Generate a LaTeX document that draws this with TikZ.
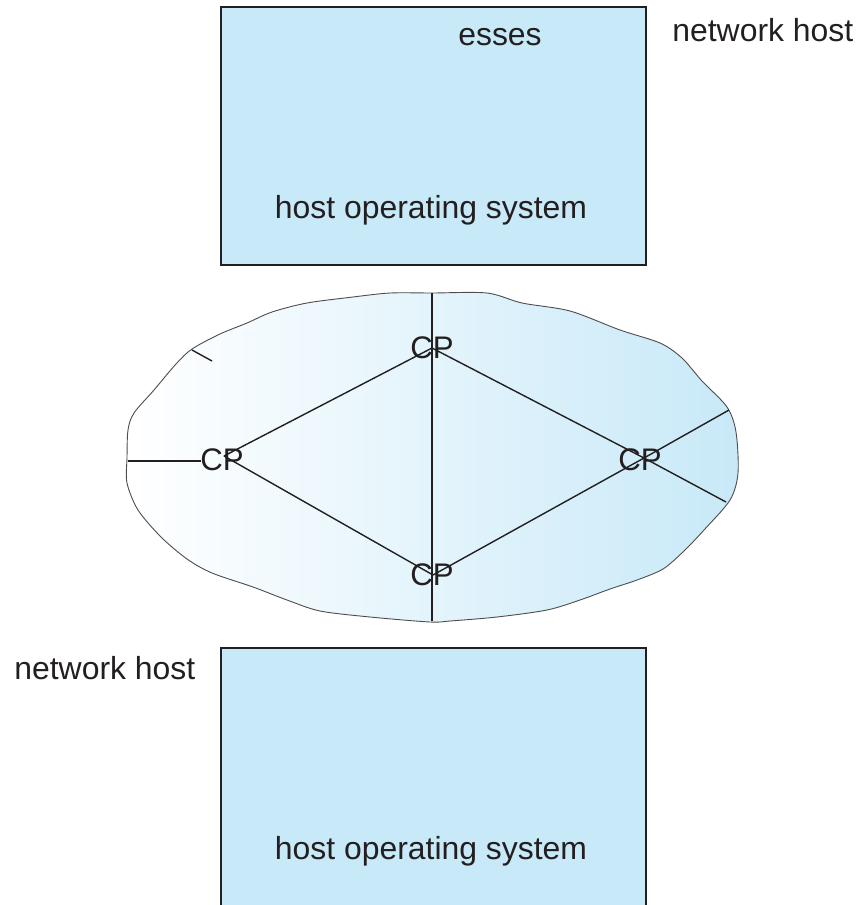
\documentclass[tikz,border=0pt]{standalone}
\usepackage{fontspec}
\setmainfont{Liberation Sans}
\definecolor{hostblue}{RGB}{200,233,248}
\definecolor{ink}{RGB}{35,31,32}
\tikzset{
  lbl/.style={inner sep=0pt, anchor=base, text=ink, font=\fontsize{15.95}{19}\selectfont},
  cp/.style={inner sep=0pt, text=ink, font=\fontsize{15.6}{19}\selectfont},
  hostbox/.style={fill=hostblue, draw=ink, line width=0.7pt},
  link/.style={draw=ink, line width=0.7pt},
  rim/.style={draw=ink!80, line width=0.45pt}
}
\begin{document}
\begin{tikzpicture}[x=0.5pt, y=-0.5pt]
\useasboundingbox (0,0) rectangle (860,905);

% upper host
\draw[hostbox] (221,7) rectangle (646,265);
\node[lbl] (procs) at (500,45) {esses};
\node[lbl] (osA) at (431,218) {host operating system};
\node[lbl, anchor=base west] (hostA) at (672,41) {network host};

% lower host (runs off the bottom edge)
\fill[hostblue] (221,648) rectangle (646,905);
\draw[hostbox, fill=none] (221,910) -- (221,648) -- (646,648) -- (646,910);
\node[lbl] (osB) at (431,859) {host operating system};
\node[lbl, anchor=base west] (hostB) at (14,679) {network host};

% network cloud
\def\cloudpath{plot[smooth cycle, tension=0.5] coordinates {
  (432,293) (487,293) (522,303) (570,311) (620,330) (660,343) (682,358)
  (702,381) (727,407) (736,432) (738,473) (730,500) (704,530) (684,551)
  (663,569) (637,580) (610,589) (580,600) (547,610) (497,617) (450,621)
  (430,622) (370,617) (320,611) (287,600) (253,587) (212,573) (187,559)
  (161,537) (138,510) (127,483) (127,458) (128,430) (134,413) (154,390)
  (176,364) (192,349) (220,334) (247,323) (272,312) (307,303) (353,297)
  (390,293)}}
\shade[left color=white, right color=hostblue] \cloudpath;
\draw[rim] \cloudpath;

% junction points and free ends of the links
\coordinate (jL) at (224,456);
\coordinate (jT) at (432,348);
\coordinate (jB) at (433,575);
\coordinate (jR) at (644,458);
\coordinate (vTop) at (432,293);
\coordinate (vBot) at (432,621);
\coordinate (eL) at (128,461);
\coordinate (eL2) at (201,461);
\coordinate (eR1) at (729,410);
\coordinate (eR2) at (726,502);
\coordinate (tk1) at (192,350);
\coordinate (tk2) at (212,361);

% links
\draw[link] (vTop) -- (vBot);
\draw[link] (jL) -- (jT);
\draw[link] (jL) -- (jB);
\draw[link] (jT) -- (jR);
\draw[link] (jB) -- (jR);
\draw[link] (jR) -- (eR1);
\draw[link] (jR) -- (eR2);
\draw[link] (eL) -- (eL2);
\draw[link] (tk1) -- (tk2);

% routers, set over the links
\node[cp] (cpL) at (222,460) {CP};
\node[cp] (cpT) at (432,348) {CP};
\node[cp] (cpB) at (432,575) {CP};
\node[cp] (cpR) at (640,460) {CP};
\end{tikzpicture}
\end{document}
